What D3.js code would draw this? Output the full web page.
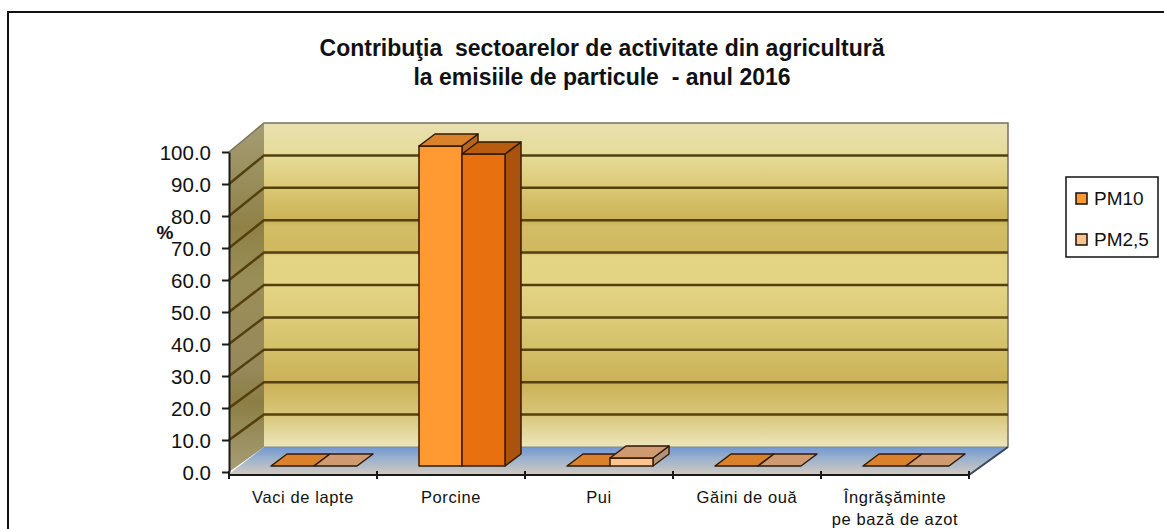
<!DOCTYPE html>
<html>
<head>
<meta charset="utf-8">
<script src="https://cdnjs.cloudflare.com/ajax/libs/d3/7.8.5/d3.min.js"></script>
<style>
    body { margin: 0; background: #fff; overflow: hidden; }
    svg { display: block; }
    text { font-family: "Liberation Sans", Arial, sans-serif; fill: #111; }
    .axis path, .axis line { stroke: #1a1a1a; stroke-width: 2; }
</style>
</head>
<body>
<script>
// Data
var categories = ["Vaci de lapte", "Porcine", "Pui", "Găini de ouă", "Îngrăşăminte\npe bază de azot"];
var seriesNames = ["PM10", "PM2,5"];
var pm10 = [0, 100, 0, 0, 0];
var pm25 = [0, 97.5, 2.5, 0, 0];
var yTicks = [0, 10, 20, 30, 40, 50, 60, 70, 80, 90, 100];
var titleLines = ["Contribuţia  sectoarelor de activitate din agricultură", "la emisiile de particule  - anul 2016"];

// Colours of each series: face, top, side
var seriesColors = [
    { face: "#FF9A33", top: "#D9822B", side: "#B5651D" },
    { face: "#FFC48F", top: "#CF9A70", side: "#B0937A" }
];
// The second Porcine bar is painted darker in the original
var porcineColors = { face: "#E8700E", top: "#B95C10", side: "#A9530F" };

var svgWidth = 1164;
var svgHeight = 529;

const svg = d3.select("body").append("svg")
    .attr("width", svgWidth)
    .attr("height", svgHeight);

// Outer frame, cut off by the right and bottom of the picture
svg.append("rect")
    .attr("x", 8).attr("y", 12)
    .attr("width", 1300).attr("height", 700)
    .attr("fill", "#fff").attr("stroke", "#111").attr("stroke-width", 2);

// Scales: front edge of the box and back wall
const xScale = d3.scaleBand().domain(d3.range(categories.length)).range([229, 969]);
const yScale = d3.scaleLinear().domain([0, 100]).range([472, 152]);
const yBack = d3.scaleLinear().domain([0, 100]).range([447, 123]);
const backLeft = 264, backRight = 1008;

// Two bars next to each other, a little right of the band centre
var barWidth = 43;
var barShift = 11;
var depthX = 16, depthY = 12;
var baseLift = 6;

const defs = svg.append("defs");

function verticalGradient(id, stops) {
    var gradient = defs.append("linearGradient")
        .attr("id", id)
        .attr("x1", 0).attr("y1", 0).attr("x2", 0).attr("y2", 1);
    stops.forEach(function(stop) {
        gradient.append("stop").attr("offset", stop[0]).attr("stop-color", stop[1]);
    });
}

verticalGradient("wall", [
    [0, "#E8E0B0"], [0.1, "#E6DB98"], [0.2, "#DAC874"], [0.3, "#CBB254"],
    [0.32, "#D2BC65"], [0.4, "#D0B95E"], [0.41, "#E4D585"], [0.5, "#E3D484"],
    [0.6, "#DCCB78"], [0.7, "#D3BF68"], [0.8, "#CAB156"], [0.9, "#D8C678"], [1, "#EDE6BC"]
]);
verticalGradient("side", [
    [0, "#A59C74"], [0.3, "#8F8146"], [0.45, "#9A8E58"], [0.7, "#97895A"], [0.8, "#8C7E44"], [1, "#A69E76"]
]);
verticalGradient("floor", [[0, "#7198D2"], [0.45, "#9DB2CC"], [1, "#CFCAC0"]]);

function polygon(parent, points, fill, stroke, strokeWidth) {
    return parent.append("polygon")
        .attr("points", points.map(function(p) { return p.join(","); }).join(" "))
        .attr("fill", fill)
        .attr("stroke", stroke || "none")
        .attr("stroke-width", strokeWidth || 0)
        .attr("stroke-linejoin", "round");
}

var frontLeft = xScale.range()[0];
var frontRight = xScale.range()[1];

// Back wall, side wall and floor
polygon(svg, [[backLeft, yBack(100)], [backRight, yBack(100)], [backRight, yBack(0)], [backLeft, yBack(0)]], "url(#wall)");
polygon(svg, [[frontLeft, yScale(100)], [backLeft, yBack(100)], [backLeft, yBack(0)], [frontLeft, yScale(0)]], "url(#side)");
polygon(svg, [[frontLeft, yScale(0) + 2], [frontRight, yScale(0) + 2], [backRight, yBack(0)], [backLeft, yBack(0)]], "url(#floor)");

// Wall edges
svg.append("path")
    .attr("d", `M${frontLeft},${yScale(100)}L${backLeft},${yBack(100)}H${backRight}V${yBack(0)}`)
    .attr("fill", "none").attr("stroke", "#77725C").attr("stroke-width", 1.5);
svg.append("line")
    .attr("x1", backLeft).attr("x2", backRight)
    .attr("y1", yBack(0)).attr("y2", yBack(0))
    .attr("stroke", "#8C8A78").attr("stroke-width", 1);
svg.append("line")
    .attr("x1", frontRight).attr("x2", backRight)
    .attr("y1", yScale(0) + 3).attr("y2", yBack(0))
    .attr("stroke", "#35465C").attr("stroke-width", 2);

// Gridlines on both walls
yTicks.filter(function(d) { return d > 0 && d < 100; }).forEach(function(d) {
    svg.append("path")
        .attr("d", `M${frontLeft},${yScale(d)}L${backLeft},${yBack(d)}H${backRight}`)
        .attr("fill", "none").attr("stroke", "#54400F").attr("stroke-width", 2.5);
});

// Bars, PM10 first so the PM2,5 bar sits against it
function drawBar(value, categoryIndex, seriesIndex) {
    var colors = seriesColors[seriesIndex];
    if (categoryIndex == 1 && seriesIndex == 1) {
        colors = porcineColors;
    }
    var x0 = xScale(categoryIndex) + xScale.bandwidth() / 2 + barShift - barWidth + seriesIndex * barWidth;
    var x1 = x0 + barWidth;
    var base = yScale(0) - baseLift;
    var top = base - (yScale(0) - yScale(value));

    if (value > 0) {
        polygon(svg, [[x1, top], [x1 + depthX, top - depthY], [x1 + depthX, base - depthY], [x1, base]], colors.side, "#3A1C00", 1.5);
        polygon(svg, [[x0, top], [x1, top], [x1, base], [x0, base]], colors.face, "#3A1C00", 1.5);
    }
    polygon(svg, [[x0, top], [x1, top], [x1 + depthX, top - depthY], [x0 + depthX, top - depthY]], colors.top, "#2E1A06", 1.5);
}

[pm10, pm25].forEach(function(values, seriesIndex) {
    values.forEach(function(value, categoryIndex) {
        drawBar(value, categoryIndex, seriesIndex);
    });
});

// Y axis
svg.append("g")
    .attr("class", "axis")
    .attr("transform", `translate(${frontLeft}, 0)`)
    .call(d3.axisLeft(yScale)
        .tickValues(yTicks)
        .tickFormat(d3.format(".1f"))
        .tickSize(7)
        .tickPadding(11)
        .tickSizeOuter(0))
    .selectAll("text")
    .style("font-size", "20.5px")
    .attr("dy", "0.36em");

// X axis, ticks between the categories
var xEdges = categories.map(function(d, i) { return xScale(i); }).concat([frontRight]);

svg.append("line")
    .attr("x1", frontLeft).attr("x2", frontRight)
    .attr("y1", 475).attr("y2", 475)
    .attr("stroke", "#1a1a1a").attr("stroke-width", 2);

svg.selectAll(".xtick")
    .data(xEdges)
    .enter()
    .append("line")
    .attr("class", "xtick")
    .attr("x1", function(d) { return d; })
    .attr("x2", function(d) { return d; })
    .attr("y1", 471).attr("y2", 479)
    .attr("stroke", "#1a1a1a").attr("stroke-width", 2);

categories.forEach(function(category, i) {
    var label = svg.append("text")
        .attr("text-anchor", "middle")
        .attr("font-size", 16.5)
        .attr("letter-spacing", 0.6);
    category.split("\n").forEach(function(line, j) {
        label.append("tspan")
            .attr("x", xScale(i) + xScale.bandwidth() / 2)
            .attr("y", 503 + j * 22)
            .text(line);
    });
});

// Title
titleLines.forEach(function(line, i) {
    svg.append("text")
        .attr("x", 602)
        .attr("y", 56 + i * 29)
        .attr("text-anchor", "middle")
        .attr("font-size", 23)
        .attr("font-weight", "bold")
        .style("white-space", "pre")
        .text(line);
});

// Axis label
svg.append("text")
    .attr("x", 165)
    .attr("y", 239)
    .attr("text-anchor", "middle")
    .attr("font-size", 19)
    .attr("font-weight", "bold")
    .text("%");

// Legend
const legend = svg.append("g").attr("class", "legend");

legend.append("rect")
    .attr("x", 1066).attr("y", 177)
    .attr("width", 92).attr("height", 80)
    .attr("fill", "#fff").attr("stroke", "#111").attr("stroke-width", 1.5);

seriesNames.forEach(function(name, i) {
    legend.append("rect")
        .attr("x", 1076).attr("y", 193 + i * 41)
        .attr("width", 11).attr("height", 11)
        .attr("fill", seriesColors[i].face)
        .attr("stroke", "#111").attr("stroke-width", 1.5);
    legend.append("text")
        .attr("x", 1094).attr("y", 205 + i * 41)
        .attr("font-size", 19)
        .text(name);
});
</script>
</body>
</html>
